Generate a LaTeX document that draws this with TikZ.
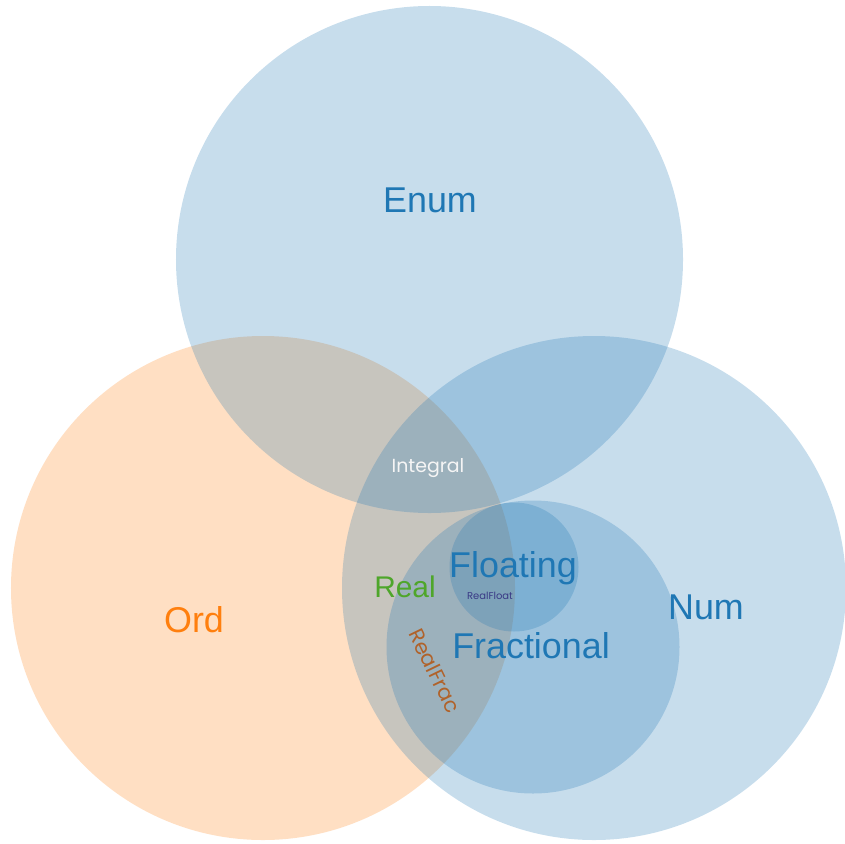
\documentclass[tikz,border=0pt]{standalone}
\usepackage{fontspec}
\setmainfont{Liberation Sans}
\newfontfamily\thinfont{Poppins}
\usepackage{xcolor}
\usetikzlibrary{positioning}
\definecolor{tabblue}{HTML}{1F77B4}
\definecolor{taborange}{HTML}{FF7F0E}
\definecolor{tabgreen}{HTML}{4EA62A}
\definecolor{tabbrown}{HTML}{B0622A}
\definecolor{tabnavy}{HTML}{3A3A86}
\tikzset{
  blueset/.style  = {circle, inner sep=0pt, fill=tabblue, fill opacity=0.25},
  orangeset/.style = {circle, inner sep=0pt, fill=taborange, fill opacity=0.25},
  biglabel/.style = {font=\fontsize{36}{36}\selectfont, text=tabblue},
  midlabel/.style = {font=\thinfont\fontsize{19}{19}\selectfont},
  tinylabel/.style = {font=\thinfont\fontsize{10}{10}\selectfont},
}

\begin{document}
\begin{tikzpicture}[x=1bp, y=-1bp]
  \useasboundingbox (0,0) rectangle (845,844);
  \clip (0,0) rectangle (845,844);

  % the class circles
  \node[orangeset, minimum size=504bp] (ord) at (263,588) {};
  \node[blueset, minimum size=507bp] (enum) at (429.5,259.5) {};
  \node[blueset, minimum size=504bp] (num) at (594,588) {};
  \node[blueset, minimum size=293bp] (frac) at (533,647) {};
  \node[blueset, minimum size=129bp] (float) at (514,567) {};

  % class names
  \node[biglabel] (enumlbl) at (430,200) {Enum};
  \node[biglabel, text=taborange] (ordlbl) at (194,620) {Ord};
  \node[biglabel] (numlbl) at (706,607) {Num};
  \node[biglabel] (floatlbl) at (513,568) {Floating};
  \node[biglabel] (fraclbl) at (531,646) {Fractional};
  \node[midlabel, text=white!92!gray] (intlbl) at (428,468) {Integral};
  \node[midlabel, text=tabgreen, font=\fontsize{30}{30}\selectfont] (reallbl) at (405,587) {Real};
  \node[tinylabel, text=tabnavy] (rflbl) at (490,596) {RealFloat};
  \node[midlabel, text=tabbrown, rotate=-64, font=\thinfont\fontsize{21}{21}\selectfont] (rfraclbl) at (435,671) {RealFrac};
\end{tikzpicture}
\end{document}
